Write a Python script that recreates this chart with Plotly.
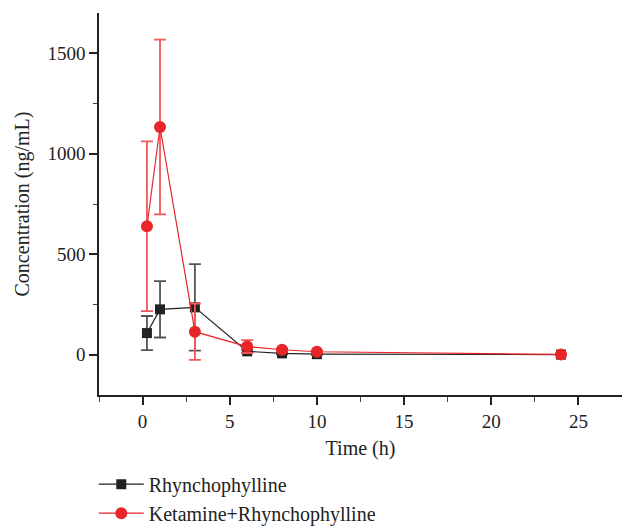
import plotly.graph_objects as go

time_h = [0.25, 1, 3, 6, 8, 10, 24]
rhy_mean = [108, 226, 236, 17, 7, 3, 1]
rhy_sd = [85, 140, 215, 8, 5, 3, 2]
ket_mean = [639, 1133, 115, 41, 25, 15, 2]
ket_sd = [422, 435, 140, 32, 8, 5, 3]

FONT = "Liberation Serif"

fig = go.Figure()
fig.add_trace(go.Scatter(
    x=time_h, y=rhy_mean, mode="lines+markers", name="Rhynchophylline",
    line=dict(color="#222222", width=1.2),
    marker=dict(symbol="square", size=10, color="#222222"),
    error_y=dict(type="data", array=rhy_sd, visible=True, color="#555555", thickness=1.8, width=6),
))
fig.add_trace(go.Scatter(
    x=time_h, y=ket_mean, mode="lines+markers", name="Ketamine+Rhynchophylline",
    line=dict(color="#e8262a", width=1.2),
    marker=dict(symbol="circle", size=12, color="#e8262a"),
    error_y=dict(type="data", array=ket_sd, visible=True, color="#f0585a", thickness=1.8, width=6),
))

fig.update_layout(
    width=622, height=526,
    margin=dict(l=99, r=0, t=13, b=131),
    paper_bgcolor="white", plot_bgcolor="white",
    font=dict(family=FONT, size=19, color="#222222"),
    showlegend=True,
    legend=dict(x=-0.01, y=0.1165, xanchor="left", yanchor="top", yref="container",
                font=dict(family=FONT, size=20, color="#222222"),
                bgcolor="rgba(0,0,0,0)", tracegroupgap=0, itemwidth=45),
)
fig.update_xaxes(
    range=[-2.5, 27.5], tickvals=[0, 5, 10, 15, 20, 25], automargin=False,
    showgrid=False, zeroline=False, showline=True, linecolor="#222222", linewidth=1.5,
    ticks="outside", ticklen=8, tickwidth=1.5, tickcolor="#222222",
    minor=dict(dtick=2.5, tick0=0, ticks="outside", ticklen=5, tickwidth=1.2, tickcolor="#444444"),
    title=dict(text="Time (h)", font=dict(size=20), standoff=10),
    tickfont=dict(size=19),
)
fig.update_yaxes(
    range=[-200, 1700], tickvals=[0, 500, 1000, 1500], automargin=False,
    showgrid=False, zeroline=False, showline=True, linecolor="#222222", linewidth=1.5,
    ticks="outside", ticklen=8, tickwidth=1.5, tickcolor="#222222",
    minor=dict(dtick=250, tick0=0, ticks="outside", ticklen=4, tickwidth=1.2, tickcolor="#444444"),
    title=dict(text="Concentration (ng/mL)", font=dict(size=20), standoff=12),
    tickfont=dict(size=19),
)

fig.write_html("out.html", config={"displayModeBar": False},
               post_script="document.body.style.margin='0';")
